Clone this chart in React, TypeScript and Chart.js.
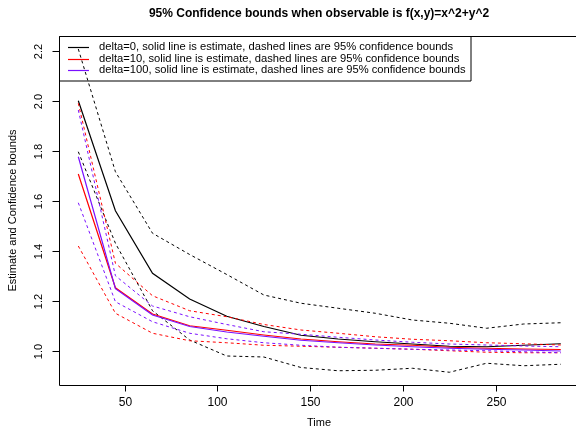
import React, { useEffect, useRef } from "react";
import { Chart, registerables } from "chart.js";

Chart.register(...registerables);

const TITLE = "95% Confidence bounds when observable is f(x,y)=x^2+y^2";
const X_TITLE = "Time";
const Y_TITLE = "Estimate and Confidence bounds";

const TIME = [25, 45, 65, 85, 105, 125, 145, 165, 185, 205, 225, 245, 265, 285];

const EST_D0 = [2.0, 1.56, 1.31, 1.207, 1.138, 1.097, 1.062, 1.047, 1.036, 1.027, 1.018, 1.016, 1.022, 1.028];
const UP_D0 = [2.207, 1.716, 1.47, 1.385, 1.305, 1.223, 1.19, 1.17, 1.15, 1.123, 1.11, 1.09, 1.107, 1.112];
const LO_D0 = [1.796, 1.43, 1.16, 1.043, 0.979, 0.975, 0.933, 0.92, 0.922, 0.93, 0.914, 0.95, 0.94, 0.946];

const EST_D10 = [1.707, 1.252, 1.147, 1.1, 1.082, 1.063, 1.047, 1.036, 1.027, 1.022, 1.014, 1.01, 1.007, 1.005];
const UP_D10 = [1.99, 1.35, 1.22, 1.16, 1.136, 1.105, 1.083, 1.07, 1.056, 1.046, 1.04, 1.032, 1.028, 1.023];
const LO_D10 = [1.419, 1.15, 1.07, 1.04, 1.032, 1.022, 1.018, 1.014, 1.01, 1.006, 1.0, 0.994, 0.992, 0.992];

const EST_D100 = [1.776, 1.248, 1.143, 1.097, 1.075, 1.058, 1.042, 1.032, 1.023, 1.016, 1.01, 1.006, 1.003, 0.999];
const UP_D100 = [1.963, 1.3, 1.179, 1.136, 1.105, 1.076, 1.066, 1.054, 1.043, 1.034, 1.027, 1.023, 1.019, 1.016];
const LO_D100 = [1.592, 1.196, 1.116, 1.07, 1.048, 1.032, 1.022, 1.014, 1.01, 1.006, 1.003, 1.0, 0.996, 0.992];

const X_TICKS = [50, 100, 150, 200, 250];
const Y_TICKS = [1.0, 1.2, 1.4, 1.6, 1.8, 2.0, 2.2];
const Y_TICK_LABELS = ["1.0", "1.2", "1.4", "1.6", "1.8", "2.0", "2.2"];

const LEGEND_LABELS = [
  "delta=0, solid line is estimate, dashed lines are 95% confidence bounds",
  "delta=10, solid line is estimate, dashed lines are 95% confidence bounds",
  "delta=100, solid line is estimate, dashed lines are 95% confidence bounds",
];

const BLACK = "#000000";
const RED = "#FF0000";
const BLUE = "#7A10FF";
const COLORS = [BLACK, RED, BLUE];

const FONT = "'Liberation Sans', Arial, Helvetica, sans-serif";

function pts(ys: number[]) {
  return TIME.map((t, i) => ({ x: t, y: ys[i] }));
}

function ds(label: string, ys: number[], color: string, dashed: boolean, order: number) {
  return {
    label,
    data: pts(ys),
    borderColor: color,
    backgroundColor: color,
    borderWidth: dashed ? 1 : 1.2,
    borderDash: dashed ? [3, 3] : [],
    pointRadius: 0,
    tension: 0,
    fill: false,
    order,
  };
}

const decorPlugin = {
  id: "decor",
  afterDatasetsDraw(chart: any) {
    const ctx = chart.ctx as CanvasRenderingContext2D;
    const area = chart.chartArea;
    const xs = chart.scales.x;
    const ys = chart.scales.y;
    ctx.save();
    ctx.strokeStyle = "#000";
    ctx.lineWidth = 1;
    ctx.setLineDash([]);
    // frame
    const L = Math.round(area.left) + 0.5;
    const T = Math.round(area.top) + 0.5;
    const B = Math.round(area.bottom) + 0.5;
    const R = area.right + 10;
    ctx.beginPath();
    ctx.moveTo(R, T);
    ctx.lineTo(L, T);
    ctx.lineTo(L, B);
    ctx.lineTo(R, B);
    ctx.stroke();

    // x ticks
    ctx.fillStyle = "#000";
    ctx.font = `12px ${FONT}`;
    ctx.textAlign = "center";
    ctx.textBaseline = "middle";
    X_TICKS.forEach((v) => {
      const px = Math.round(xs.getPixelForValue(v)) + 0.5;
      ctx.beginPath();
      ctx.moveTo(px, B);
      ctx.lineTo(px, B + 6);
      ctx.stroke();
      ctx.fillText(String(v), px, 403);
    });

    // y ticks
    ctx.font = `11px ${FONT}`;
    Y_TICKS.forEach((v, i) => {
      const py = Math.round(ys.getPixelForValue(v)) + 0.5;
      ctx.beginPath();
      ctx.moveTo(L, py);
      ctx.lineTo(L - 7, py);
      ctx.stroke();
      ctx.save();
      ctx.translate(39, py);
      ctx.rotate(-Math.PI / 2);
      ctx.fillText(Y_TICK_LABELS[i], 0, 0);
      ctx.restore();
    });

    // axis titles
    ctx.font = `11px ${FONT}`;
    ctx.fillText(X_TITLE, 319, 423);
    ctx.save();
    ctx.translate(13, (area.top + area.bottom) / 2);
    ctx.rotate(-Math.PI / 2);
    ctx.fillText(Y_TITLE, 0, 0);
    ctx.restore();

    // main title
    ctx.font = `bold 12px ${FONT}`;
    ctx.fillText(TITLE, 319, 14);

    // legend
    ctx.beginPath();
    ctx.rect(L, T, 471 - L, 81 - T);
    ctx.stroke();
    ctx.font = `11.2px ${FONT}`;
    ctx.textAlign = "left";
    const rowY = [47, 58.5, 70];
    LEGEND_LABELS.forEach((lab, i) => {
      ctx.strokeStyle = COLORS[i];
      ctx.lineWidth = 1.2;
      ctx.beginPath();
      ctx.moveTo(68, Math.round(rowY[i]) + 0.5);
      ctx.lineTo(89, Math.round(rowY[i]) + 0.5);
      ctx.stroke();
      ctx.fillStyle = "#000";
      ctx.fillText(lab, 99, rowY[i]);
    });
    ctx.restore();
  },
};

export default function App() {
  const ref = useRef<HTMLCanvasElement | null>(null);

  useEffect(() => {
    document.body.style.margin = "0";
    const canvas = ref.current;
    if (!canvas) return;
    const chart = new Chart(canvas, {
      type: "line",
      data: {
        datasets: [
          ds("est0", EST_D0, BLACK, false, 5),
          ds("up0", UP_D0, BLACK, true, 5),
          ds("lo0", LO_D0, BLACK, true, 5),
          ds("est10", EST_D10, RED, false, 3),
          ds("up10", UP_D10, RED, true, 3),
          ds("lo10", LO_D10, RED, true, 3),
          ds("est100", EST_D100, BLUE, false, 1),
          ds("up100", UP_D100, BLUE, true, 1),
          ds("lo100", LO_D100, BLUE, true, 1),
        ],
      },
      options: {
        responsive: false,
        animation: false,
        devicePixelRatio: 1,
        layout: { padding: { left: 59, top: 36, right: 0, bottom: 44 } },
        plugins: {
          legend: { display: false },
          title: { display: false },
          tooltip: { enabled: false },
        },
        scales: {
          x: { type: "linear", min: 14.6, max: 293.2, display: false },
          y: { type: "linear", min: 0.863, max: 2.259, display: false },
        },
      },
      plugins: [decorPlugin],
    } as any);
    return () => chart.destroy();
  }, []);

  return (
    <div style={{ width: 576, height: 429, overflow: "hidden", background: "#fff" }}>
      <canvas ref={ref} width={576} height={429} style={{ display: "block" }} />
    </div>
  );
}
